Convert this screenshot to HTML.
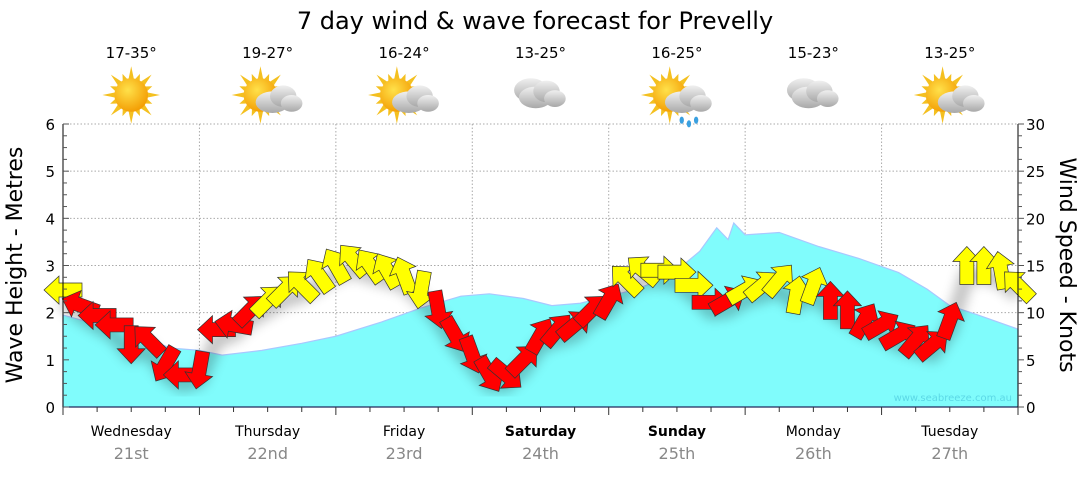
<!DOCTYPE html>
<html><head><meta charset="utf-8"><style>
body{margin:0;background:#fff;width:1080px;height:475px;overflow:hidden;font-family:"DejaVu Sans","Liberation Sans",sans-serif}
</style></head><body>
<svg id="c" width="1080" height="475" xmlns="http://www.w3.org/2000/svg">
<defs>
<radialGradient id="sun" cx="0.4" cy="0.35" r="0.7"><stop offset="0" stop-color="#ffe14a"/><stop offset="1" stop-color="#f39a00"/></radialGradient>
<linearGradient id="cloud" x1="0" y1="0" x2="0" y2="1"><stop offset="0" stop-color="#f0f0f0"/><stop offset="1" stop-color="#a8a8a8"/></linearGradient>
<filter id="blur"><feGaussianBlur stdDeviation="6"/></filter>
</defs>
<text x="535" y="29" text-anchor="middle" font-size="24" fill="#000">7 day wind &amp; wave forecast for Prevelly</text>
<g id="grid"></g>
<g id="wave"></g>
<g id="shadow" filter="url(#blur)" opacity="0.25"></g>
<g id="arrows"></g>
<g id="axes"></g>
<g id="icons"></g>
<text x="1012" y="401" text-anchor="end" font-size="10" fill="#5cd8e6">www.seabreeze.com.au</text>
<text transform="translate(22,265) rotate(-90)" text-anchor="middle" font-size="22">Wave Height - Metres</text>
<text transform="translate(1060,265) rotate(90)" text-anchor="middle" font-size="22">Wind Speed - Knots</text>
</svg>
<script>
const days=["Wednesday","Thursday","Friday","Saturday","Sunday","Monday","Tuesday"];
const dates=["21st","22nd","23rd","24th","25th","26th","27th"];
const boldDays=[false,false,false,true,true,false,false];
const temps=["17-35°","19-27°","16-24°","13-25°","16-25°","15-23°","13-25°"];
const weather=["sun","suncloud","suncloud","cloud","rain","cloud","suncloud"];
const waveHours=[0,12,19,24,28,35,42,48,56,63,70,75,81,86,91,96,101,107,112,115,117,118,120,126,133,140,147,152,156,161,168];
const waveM=[1.95,1.55,1.25,1.2,1.1,1.2,1.35,1.5,1.8,2.1,2.35,2.4,2.3,2.15,2.2,2.35,2.5,2.8,3.3,3.8,3.55,3.9,3.65,3.7,3.4,3.15,2.85,2.5,2.15,1.95,1.65];
const windKts=[12.4,10.8,9.7,8.7,6.6,7.1,4.5,3.4,3.9,8.2,8.7,10.3,11.3,12.4,12.9,14,15,15.6,15,14.5,14,12.4,10.3,7.6,5.5,3.4,3.4,5,7.6,8.2,8.7,10.3,11.3,13.5,14.5,14.5,14.3,12.9,11.1,11.3,12.4,12.9,13.5,11.9,12.9,11.3,10.3,9.2,8.7,7.6,7.1,6.6,9.2,15,15,14.5,12.9];
const windDir=[180,200,180,180,90,225,120,180,100,180,190,315,315,315,225,235,240,230,235,240,250,100,80,60,70,60,40,315,300,310,320,315,300,225,220,0,0,0,0,330,330,320,310,280,290,270,270,300,330,330,310,320,290,270,270,260,225];
const windCol="yrrrrrrrrrrryyyyyyyyyyrrrrrrrrrrryyyyyrryyyyyrrrrrrrryyyy";
const L=63,R=1018,T=124,B=407,hours=168;
const xs=h=>L+(R-L)*h/hours;
const yw=m=>B-(B-T)*m/6;
const yk=k=>B-(B-T)*k/30;
const NS="http://www.w3.org/2000/svg";
function mk(tag,at,parent){const e=document.createElementNS(NS,tag);for(const k in at)e.setAttribute(k,at[k]);parent.appendChild(e);return e;}
const grid=document.getElementById('grid'),axes=document.getElementById('axes'),wave=document.getElementById('wave'),arr=document.getElementById('arrows'),icons=document.getElementById('icons'),shadow=document.getElementById('shadow');
for(let m=1;m<=6;m++){const l=mk('line',{x1:L,x2:R,y1:yw(m),y2:yw(m),stroke:'#aaa','stroke-dasharray':'1.5,2','stroke-width':1},grid);

}
for(let d=1;d<7;d++){const l=mk('line',{x1:xs(d*24),x2:xs(d*24),y1:T,y2:B,stroke:'#aaa','stroke-dasharray':'1.5,2','stroke-width':1},grid);

}
let p=`M${xs(waveHours[0])},${B}`;waveHours.forEach((h,i)=>p+=` L${xs(h)},${yw(waveM[i])}`);p+=` L${xs(waveHours[waveHours.length-1])},${B} Z`;
const wa=mk('path',{d:p,fill:'#80fcfc',stroke:'#a8c8ff','stroke-width':1.2},wave);


let sp='';windKts.forEach((k,i)=>{sp+=(i?' L':'M')+xs(i*3)+','+(yk(k)+10);});
mk('path',{d:sp,fill:'none',stroke:'#000','stroke-width':14},shadow);
windKts.forEach((k,i)=>{const x=xs(i*3),y=yk(k);
const a=mk('polygon',{points:'-19,-7 4,-7 4,-14 19,0 4,14 4,7 -19,7',transform:`translate(${x},${y}) rotate(${windDir[i]})`,fill:windCol[i]=='y'?'#ffff00':'#ff0000',stroke:'#333','stroke-width':0.7},arr);

});
mk('line',{x1:L,x2:L,y1:T,y2:B,stroke:'#000'},axes);mk('line',{x1:R,x2:R,y1:T,y2:B,stroke:'#000'},axes);mk('line',{x1:L,x2:R,y1:B,y2:B,stroke:'#003'},axes);
for(let i=0;i<=24;i++){const y=yw(i/4),len=i%4==0?6:4;mk('line',{x1:L,x2:L+len,y1:y,y2:y,stroke:'#555'},axes);mk('line',{x1:R,x2:R+len,y1:y,y2:y,stroke:'#555'},axes);}
for(let m=0;m<=6;m++){const t=mk('text',{x:L-8,y:yw(m)+6,'text-anchor':'end','font-size':15},axes);t.textContent=m;

}
for(let k=0;k<=30;k+=5){const t=mk('text',{x:R+8,y:yk(k)+6,'font-size':15},axes);t.textContent=k;

}
for(let h=0;h<=hours;h+=6){const x=xs(h);mk('line',{x1:x,x2:x,y1:B,y2:B+(h%24==0?8:5),stroke:'#333'},axes);}
days.forEach((d,i)=>{const cx=xs(i*24+12);
const t=mk('text',{x:cx,y:436,'text-anchor':'middle','font-size':14,'font-weight':boldDays[i]?'bold':'normal'},axes);t.textContent=d;


const t2=mk('text',{x:cx,y:459,'text-anchor':'middle','font-size':16,fill:'#888'},axes);t2.textContent=dates[i];


const t3=mk('text',{x:cx,y:58,'text-anchor':'middle','font-size':15},icons);t3.textContent=temps[i];


const g=mk('g',{transform:`translate(${cx},${95}) scale(1.2)`},icons);


const w=weather[i];
if(w!='cloud'){const sx=w=='sun'?0:-6;
for(let r=0;r<16;r++){const an=r*Math.PI/8,l=r%2?19:24;mk('polygon',{points:`${sx+Math.cos(an)*l},${Math.sin(an)*l} ${sx+Math.cos(an+0.18)*13},${Math.sin(an+0.18)*13} ${sx+Math.cos(an-0.18)*13},${Math.sin(an-0.18)*13}`,fill:'#f4c020'},g);}
mk('circle',{cx:sx,cy:0,r:14,fill:'url(#sun)'},g);}
if(w!='sun'){const ox=w=='cloud'?0:8,oy=w=='cloud'?0:4;
if(w=='cloud'){mk('ellipse',{cx:ox-8,cy:-4,rx:14,ry:10,fill:'url(#cloud)'},g);}
mk('ellipse',{cx:ox-4,cy:oy+2,rx:14,ry:9,fill:'url(#cloud)'},g);mk('ellipse',{cx:ox+5,cy:oy-3,rx:11,ry:9,fill:'url(#cloud)'},g);mk('ellipse',{cx:ox+12,cy:oy+3,rx:9,ry:7,fill:'url(#cloud)'},g);
if(w=='rain'){for(let r=0;r<3;r++)mk('ellipse',{cx:ox-4+r*6,cy:oy+17+(r%2)*3,rx:1.8,ry:3,fill:'#3aa0e0'},g);}}
});
</script>
</body></html>
